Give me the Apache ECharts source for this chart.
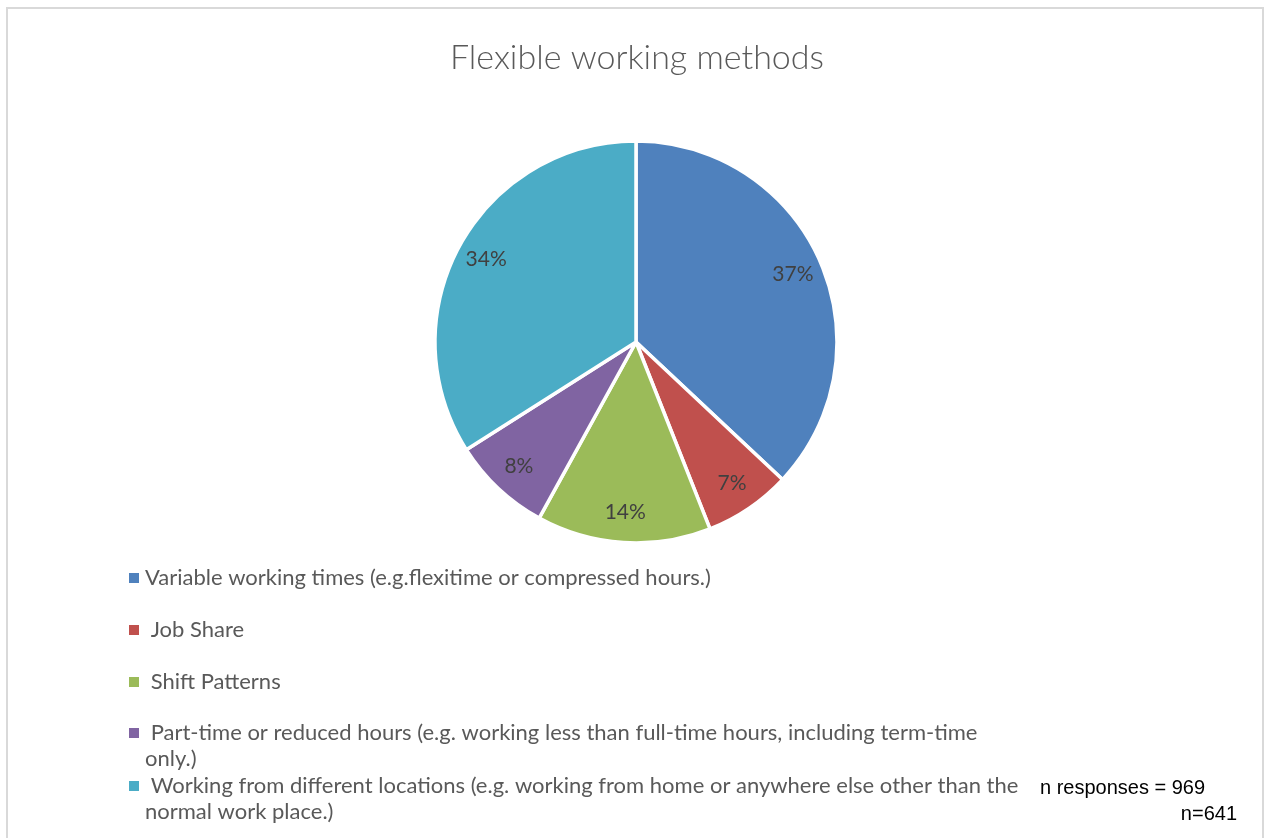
<!DOCTYPE html>
<html>
<head>
<meta charset="utf-8">
<style>
  html, body { margin: 0; padding: 0; background: #ffffff; }
  #chart { width: 1265px; height: 838px; }
</style>
<script src="https://cdn.jsdelivr.net/npm/echarts@6/dist/echarts.min.js"></script>
</head>
<body>
<div id="chart"></div>
<script>
// Flexible working methods — share of responses per method
const categories = [
  'Variable working times (e.g.flexitime or compressed hours.)',
  'Job Share',
  'Shift Patterns',
  'Part-time or reduced hours (e.g. working less than full-time hours, including term-time only.)',
  'Working from different locations (e.g. working from home or anywhere else other than the normal work place.)'
];
// legend text as laid out on screen (line breaks where the text wraps)
const legendLabels = [
  'Variable working times (e.g.flexitime or compressed hours.)',
  ' Job Share',
  ' Shift Patterns',
  ' Part-time or reduced hours (e.g. working less than full-time hours, including term-time\nonly.)',
  ' Working from different locations (e.g. working from home or anywhere else other than the\nnormal work place.)'
];
const percentages = [37, 7, 14, 8, 34];
const colors = ['#4F81BD', '#C0504D', '#9BBB59', '#8064A2', '#4BACC6'];
const titleText = 'Flexible working methods';
const noteResponses = 'n responses = 969';
const noteRespondents = 'n=641';

const FONT = 'Lato';
const LINE = 26;
const pieData = categories.map((name, i) => ({
  name: name,
  value: percentages[i],
  itemStyle: { color: colors[i] }
}));

// One legend component per entry. Wrapped entries get an empty line above the
// text so the (vertically centred) icon lines up with the first text line.
const legendCentres = [578, 630, 682, 733, 786];
const legends = categories.map((name, i) => {
  const multi = legendLabels[i].indexOf('\n') >= 0;
  const text = multi ? ' \n' + legendLabels[i] : legendLabels[i];
  return {
    data: [name],
    orient: 'vertical',
    left: 127,
    top: legendCentres[i] - (multi ? LINE * 1.5 : LINE / 2),
    icon: 'rect',
    itemWidth: 12,
    itemHeight: 12,
    padding: 0,
    formatter: () => text,
    textStyle: {
      fontFamily: FONT,
      fontSize: 22,
      color: '#595959',
      lineHeight: LINE
    }
  };
});

const chart = echarts.init(document.getElementById('chart'), null, { renderer: 'canvas' });
chart.setOption({
  animation: false,
  color: colors,
  graphic: [{
    type: 'rect',
    silent: true,
    z: -10,
    shape: { x: 7, y: 8, width: 1256, height: 900 },
    style: { fill: '#ffffff', stroke: '#d9d9d9', lineWidth: 2 }
  }],
  title: [
    {
      text: titleText,
      left: 632,
      top: 36,
      textAlign: 'center',
      textStyle: { fontFamily: FONT, fontSize: 34, fontWeight: 300, color: '#595959' }
    },
    {
      text: noteResponses,
      left: 1040,
      top: 778,
      padding: 0,
      textStyle: { fontFamily: 'Liberation Sans', fontSize: 20, fontWeight: 'normal', color: '#000000' }
    },
    {
      text: noteRespondents,
      right: 28,
      top: 804,
      padding: 0,
      textStyle: { fontFamily: 'Liberation Sans', fontSize: 20, fontWeight: 'normal', color: '#000000' }
    }
  ],
  legend: legends,
  series: [
    {
      name: 'Flexible working methods',
      type: 'pie',
      center: [636, 342],
      radius: [0, 201],
      startAngle: 90,
      clockwise: true,
      avoidLabelOverlap: false,
      label: { show: false },
      labelLine: { show: false },
      itemStyle: { borderColor: '#ffffff', borderWidth: 3.5 },
      emphasis: { disabled: true },
      data: pieData
    },
    {
      // transparent ring carrying the percentage labels at the outer part of each slice
      name: 'labels',
      type: 'pie',
      center: [636, 342],
      radius: [135, 201],
      startAngle: 90,
      clockwise: true,
      silent: true,
      avoidLabelOverlap: false,
      itemStyle: { color: 'rgba(0,0,0,0)', borderWidth: 0 },
      label: {
        show: true,
        position: 'inside',
        formatter: p => p.value + '%',
        fontFamily: FONT,
        fontSize: 21,
        color: '#404040'
      },
      labelLine: { show: false },
      emphasis: { disabled: true },
      data: categories.map((name, i) => ({ name: name, value: percentages[i] }))
    }
  ]
});
</script>
</body>
</html>
